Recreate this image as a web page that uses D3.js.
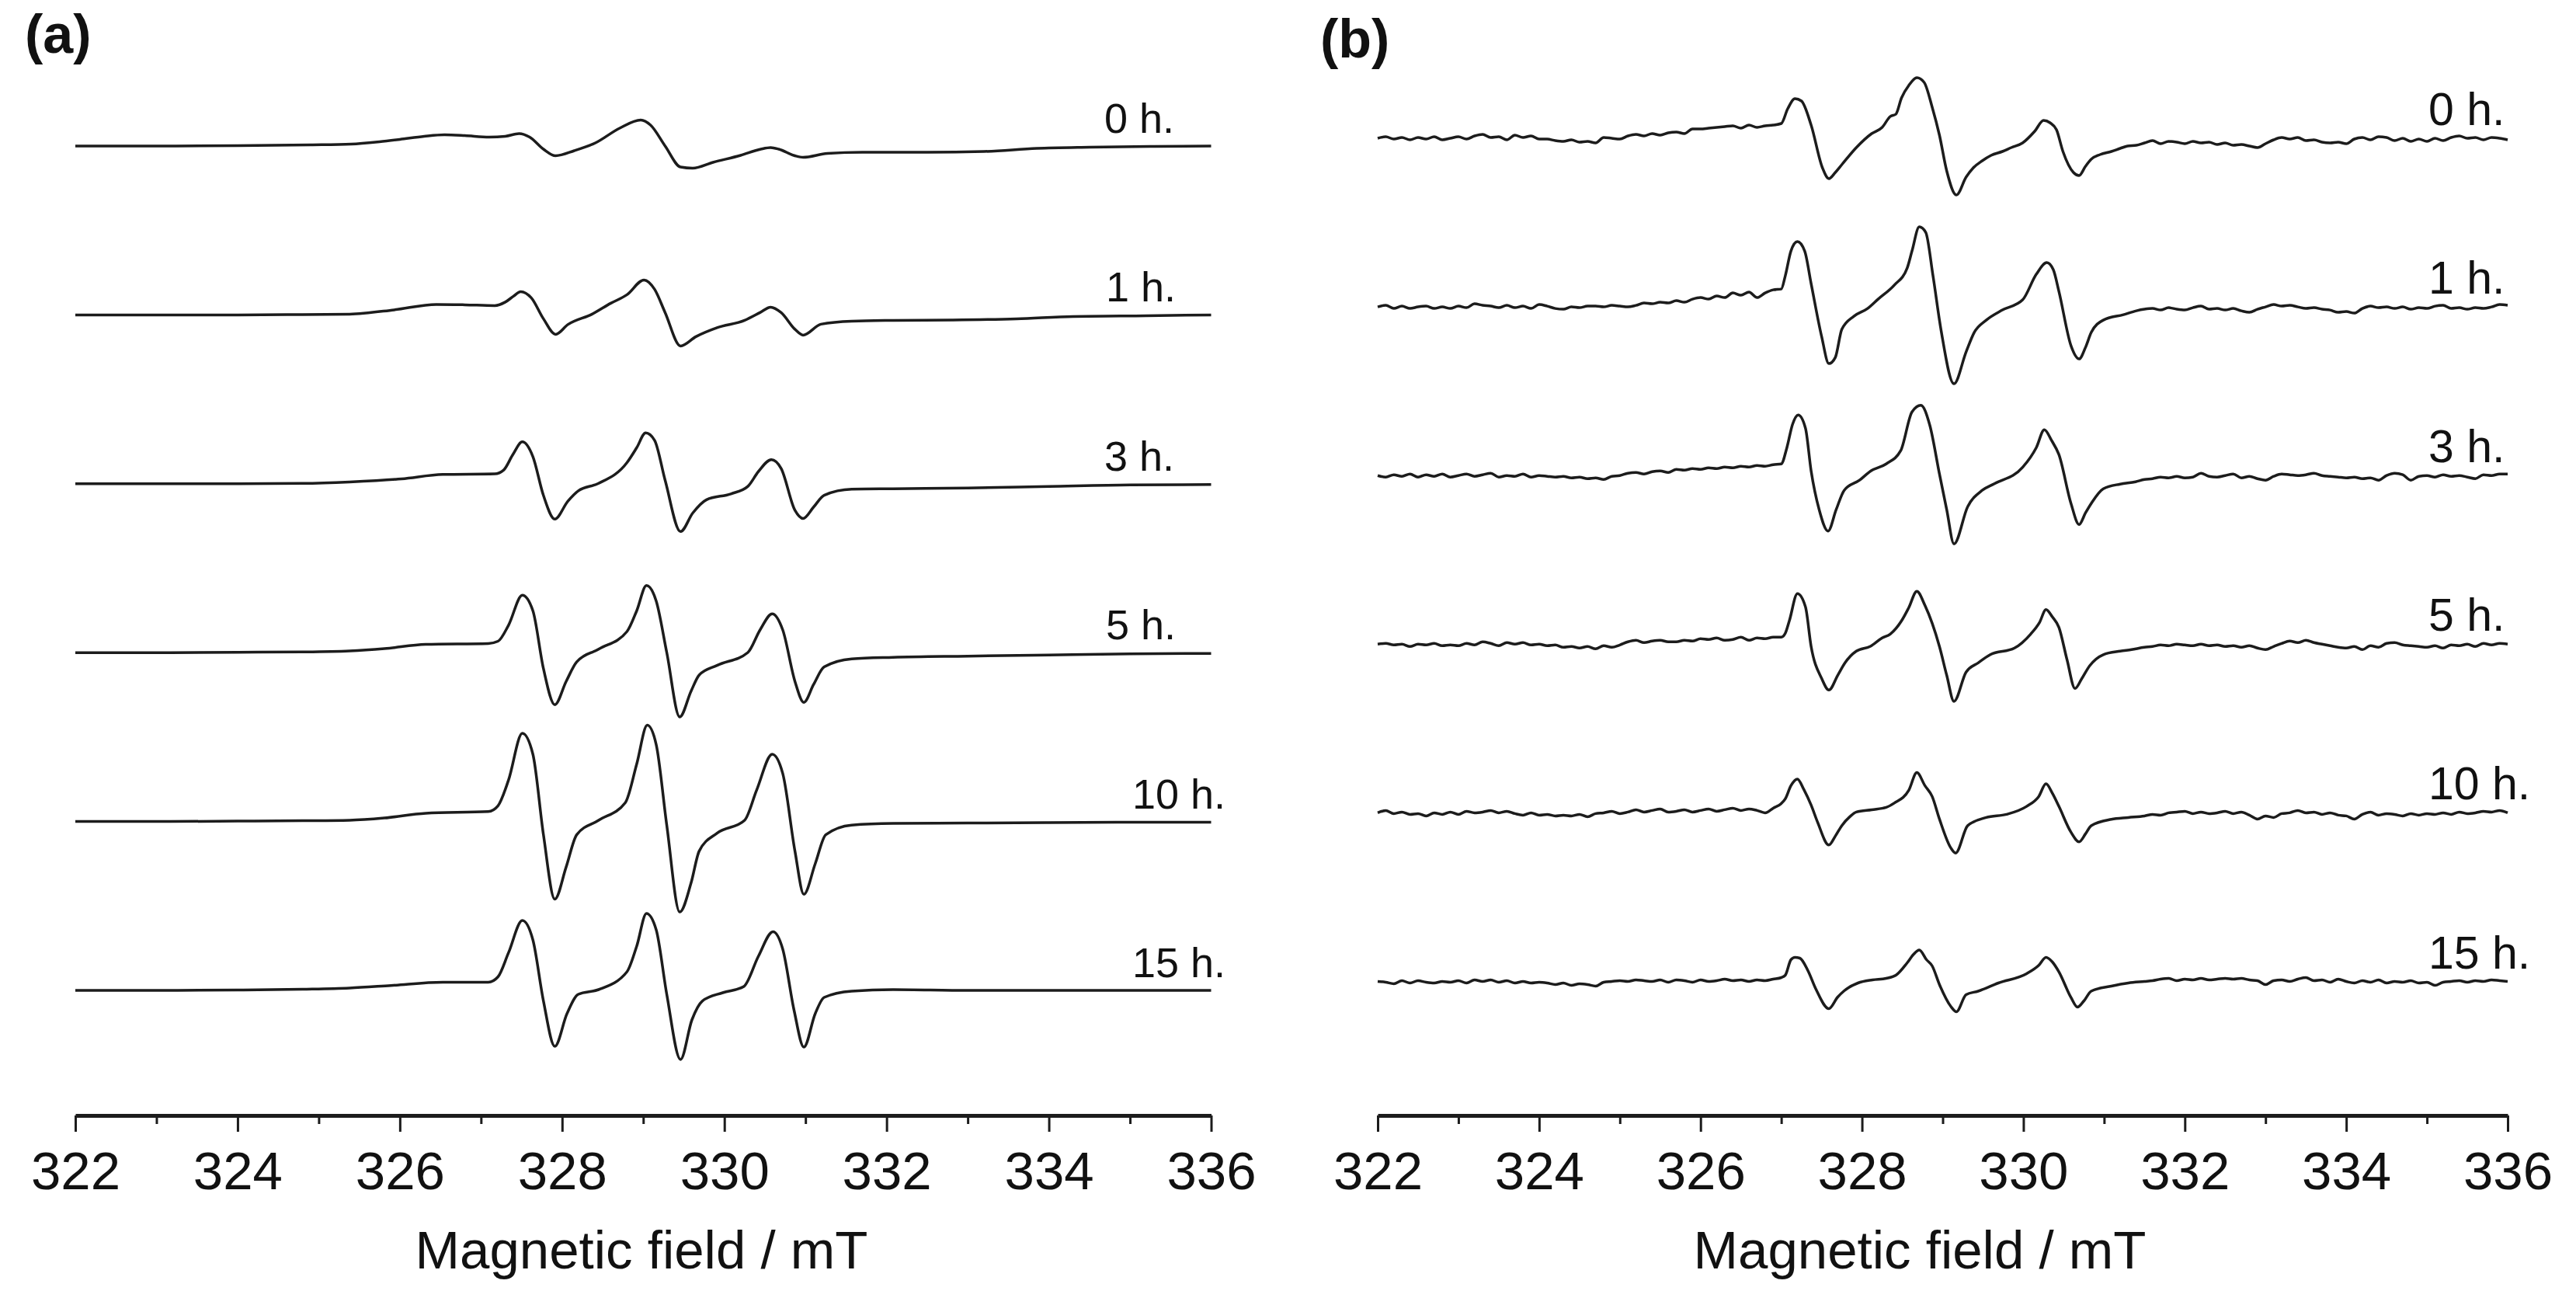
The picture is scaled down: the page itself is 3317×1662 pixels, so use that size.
<!DOCTYPE html>
<html>
<head>
<meta charset="utf-8">
<script src="https://cdn.jsdelivr.net/npm/d3@7"></script>
<style>
  html, body { margin: 0; padding: 0; background: #fff; }
  svg { display: block; }
  text { font-family: "Liberation Sans", Arial, sans-serif; fill: #111; }
</style>
</head>
<body>
<svg id="chart" width="3317" height="1662"></svg>
<script>
"use strict";

// Sample times, one label per stacked spectrum
const timeLabels = ["0 h.", "1 h.", "3 h.", "5 h.", "10 h.", "15 h."];

// Axis ticks (mT)
const majorTicks = [322, 324, 326, 328, 330, 332, 334, 336];
const minorTicks = [323, 325, 327, 329, 331, 333, 335];

// Panel (a): [field mT, signal a.u.]
const specA0 = [[322.0, 0], [323.0, 0], [324.0, 0.5], [324.9, 1.5], [325.4, 2.5], [325.75, 5.5], [326.0, 8.5], [326.3, 12.5],
    [326.55, 14.5], [326.8, 13.5], [327.1, 11.5], [327.3, 12.5], [327.47, 16], [327.6, 11.5], [327.77, -4], [327.92, -12.5],
    [328.15, -6], [328.41, 4], [328.71, 23], [328.97, 33.5], [329.09, 27], [329.27, 0], [329.46, -27], [329.61, -28.5],
    [329.86, -21], [330.2, -12], [330.45, -4], [330.57, -2], [330.67, -4], [330.87, -12.5], [330.97, -14.5], [331.27, -9.5],
    [331.7, -8], [332.5, -8], [333.2, -7], [333.85, -3], [334.5, -1.5], [335.3, -0.5], [336.0, 0]];
const specA1 = [[322.0, 0], [323.0, 0], [324.0, 0], [324.8, 0.5], [325.38, 1], [325.93, 6.5], [326.45, 13.5], [326.8, 13],
    [327.17, 12], [327.3, 16.5], [327.4, 24], [327.49, 30], [327.62, 22], [327.77, -5], [327.92, -25], [328.07, -12.5],
    [328.37, 1], [328.6, 15], [328.8, 26], [329.01, 45], [329.14, 33], [329.27, 3], [329.46, -40], [329.65, -28],
    [329.91, -16.5], [330.25, -7], [330.44, 3], [330.57, 10], [330.7, 3], [330.87, -18.5], [330.97, -26], [331.19, -12],
    [331.57, -8], [332.08, -7], [332.8, -6.5], [333.6, -5], [334.3, -2], [335.2, -1], [336.0, 0]];
const specA3 = [[322.0, 0], [323.0, 0], [324.0, 0], [324.8, 0.5], [325.38, 2.4], [326.02, 6.3], [326.53, 12], [327.17, 12.8],
    [327.28, 17.7], [327.39, 37], [327.51, 54], [327.64, 35], [327.77, -15], [327.91, -45.5], [328.07, -22.5], [328.2, -9],
    [328.45, 0.5], [328.8, 27.3], [328.92, 46.5], [329.03, 65.5], [329.14, 56], [329.27, 4.5], [329.46, -61.5], [329.61, -37.7],
    [329.78, -20.5], [330.08, -13], [330.29, -3.3], [330.42, 15.8], [330.58, 31], [330.7, 19.7], [330.87, -34], [330.97, -44.6],
    [331.1, -30], [331.23, -14.8], [331.57, -7], [332.08, -6.4], [333.0, -5.5], [334.0, -3.5], [335.0, -1.5], [336.0, -1]];
const specA5 = [[322.0, 0], [323.0, 0], [324.0, 0.5], [324.8, 1], [325.38, 2.3], [325.81, 5.2], [326.32, 10.6], [327.09, 11.8],
    [327.21, 14.7], [327.34, 35.4], [327.51, 74], [327.64, 54], [327.77, -20.5], [327.91, -67], [328.05, -37], [328.18, -12],
    [328.45, 4.4], [328.8, 27.2], [328.92, 54], [329.04, 86.4], [329.16, 66.5], [329.29, 0.2], [329.45, -82.7], [329.59, -49.5],
    [329.69, -28.8], [329.91, -16.4], [330.29, 0.2], [330.44, 29.2], [330.59, 50], [330.72, 29.2], [330.87, -37], [330.98, -64],
    [331.1, -41], [331.23, -18.4], [331.57, -8], [332.08, -6], [333.0, -4.5], [334.0, -3], [335.0, -1.5], [336.0, -1]];
const specA10 = [[322.0, 0], [323.0, 0], [324.0, 0.5], [324.8, 1], [325.38, 1.6], [325.81, 4.5], [326.32, 10.7], [327.09, 12.8],
    [327.21, 20.3], [327.34, 53.4], [327.51, 113.5], [327.64, 86.6], [327.77, -17], [327.91, -100], [328.05, -58.5], [328.18, -17],
    [328.45, 1.6], [328.78, 24.4], [328.92, 74.1], [329.05, 124], [329.16, 99], [329.29, -4.6], [329.45, -116.5], [329.59, -79],
    [329.69, -38], [329.91, -15], [330.25, 1.6], [330.4, 41], [330.59, 86.6], [330.72, 61.7], [330.87, -38], [330.98, -93.7],
    [331.12, -54.4], [331.25, -17], [331.57, -4.6], [332.08, -2.5], [333.0, -2], [334.0, -1.5], [335.0, -1], [336.0, -1]];
const specA15 = [[322.0, 0], [323.0, 0], [324.0, 0.5], [324.8, 1.5], [325.38, 3], [325.89, 6.3], [326.53, 10.5], [327.09, 10.5],
    [327.21, 17.5], [327.34, 48.6], [327.51, 90], [327.64, 65], [327.77, -13.6], [327.91, -72], [328.06, -30], [328.2, -5],
    [328.45, 1], [328.8, 24], [328.92, 57], [329.04, 99], [329.16, 78], [329.29, -5], [329.46, -89], [329.6, -38],
    [329.73, -13.6], [329.98, -3], [330.24, 5], [330.42, 44], [330.6, 75.5], [330.72, 53], [330.86, -26], [330.98, -73],
    [331.12, -30], [331.23, -9], [331.57, -1], [332.08, 1], [333.0, 0], [334.0, 0], [335.0, 0], [336.0, 0]];

// Panel (b): noisy baselines sampled every 0.1 mT (322.0-326.9 and 331.6-336.0), lines as [field, signal]
const fieldsLeftB = d3.range(50).map((i) => +(322 + i * 0.1).toFixed(1));
const fieldsRightB = d3.range(45).map((i) => +(331.6 + i * 0.1).toFixed(1));

const b0Left = [0, 2, -1, 1, -2, 1, -1, 2, -2, 0, 2, -1, 3, 5, 1, 2, -2, 4, 1, 3, -1, -1, -3, -4, -2, -5, -4, -6, 1, 0,
    -1, 3, 5, 3, 6, 4, 7, 8, 6, 12, 12, 13, 14, 15, 16, 13, 17, 14, 16, 17];
const b0Lines = [[327.0, 19], [327.08, 38], [327.17, 51], [327.25, 48], [327.37, 17], [327.51, -38], [327.59, -52], [327.67, -44],
    [327.75, -34], [327.93, -12], [328.12, 6], [328.25, 14], [328.35, 28], [328.42, 31], [328.49, 52], [328.58, 68], [328.68, 78],
    [328.77, 72], [328.87, 40], [328.96, 4], [329.05, -42], [329.17, -73], [329.29, -50], [329.38, -38], [329.49, -29], [329.6, -22],
    [329.74, -17], [329.85, -12], [329.99, -6], [330.14, 9], [330.25, 23], [330.33, 20], [330.41, 11], [330.49, -17], [330.62, -44],
    [330.69, -48], [330.77, -36], [330.84, -27], [330.95, -21], [331.09, -17], [331.2, -13], [331.29, -10], [331.4, -9], [331.5, -6]];
const b0Right = [-3, -7, -4, -5, -7, -4, -6, -5, -8, -6, -9, -8, -10, -12, -7, -2, 1, -1, 1, -3, -2, -5, -6, -5, -7, -1, 1, -2, 2, 1,
    -3, 0, -4, -1, -4, 0, -3, 1, 3, 0, 1, -2, 1, 0, -2];

const b1Left = [0, 2, -2, 1, -2, 0, 1, -2, 0, -2, 1, -1, 4, 2, 1, -1, 2, -1, 1, -2, 3, 1, -2, -3, 0, -1, 1, 1, 0, 2,
    1, 0, 2, 5, 4, 6, 5, 8, 6, 10, 12, 10, 14, 12, 18, 15, 19, 12, 18, 22];
const b1Lines = [[327.0, 23], [327.05, 40], [327.12, 72], [327.2, 84], [327.29, 72], [327.37, 30], [327.5, -38], [327.59, -73],
    [327.67, -65], [327.75, -29], [327.9, -12], [328.07, -2], [328.2, 10], [328.4, 28], [328.56, 50], [328.62, 72], [328.71, 103],
    [328.79, 96], [328.88, 40], [328.98, -30], [329.14, -99], [329.29, -58], [329.39, -33], [329.54, -17], [329.74, -4], [329.99, 9],
    [330.16, 42], [330.29, 57], [330.37, 48], [330.44, 20], [330.59, -50], [330.69, -67], [330.77, -52], [330.84, -33], [330.99, -17],
    [331.24, -10], [331.4, -5], [331.5, -3]];
const b1Right = [-2, -4, -1, -3, -4, -1, 1, -3, -2, -4, -2, -5, -7, -3, 0, 3, 1, 2, 0, -2, -1, -3, -4, -7, -6, -8, -2, 1, -1, 0,
    -2, 0, -3, -1, -2, 1, 2, -2, -1, -3, -1, -2, 0, 3, 2];

const b3Left = [0, -2, 1, -1, 2, -2, 1, -1, 2, -2, 0, 2, -1, 1, 3, -2, 0, -1, 2, -2, 0, -1, -2, -1, -3, -2, -4, -3, -5, -1,
    0, 3, 4, 2, 5, 6, 4, 8, 7, 9, 8, 10, 9, 11, 10, 12, 11, 13, 12, 14];
const b3Lines = [[327.0, 15], [327.07, 36], [327.14, 66], [327.21, 78], [327.3, 61], [327.37, 6], [327.47, -44], [327.58, -71.5],
    [327.68, -44], [327.78, -19], [327.97, -6], [328.11, 6], [328.3, 15], [328.48, 32], [328.62, 82], [328.73, 90.5], [328.84, 65],
    [328.96, 2], [329.05, -44], [329.14, -88], [329.31, -40], [329.49, -19], [329.64, -10.5], [329.99, 10.5], [330.16, 36],
    [330.26, 59], [330.35, 45], [330.44, 27], [330.59, -36], [330.69, -63], [330.77, -48], [330.84, -36], [330.99, -17],
    [331.2, -11], [331.39, -8], [331.5, -5]];
const b3Right = [-4, -2, -3, -1, -3, -2, 3, -1, -2, 0, 2, -3, -1, -4, -6, -1, 2, 1, 0, 1, 3, 0, -1, -2, -3, -2, -4, -3, -6, 0,
    3, 1, -6, -1, 0, -2, 1, -1, 0, -2, -4, 1, 0, 2, 2];

const b5Left = [0, 1, -1, 0, -3, 0, -1, 1, -2, -1, -2, 1, -1, 3, 1, -2, 2, 0, 2, -1, 0, -2, -1, -4, -3, -5, -3, -6, -2, -4,
    -1, 3, 5, 2, 4, 5, 3, 3, 5, 4, 7, 6, 8, 5, 6, 9, 5, 8, 7, 9];
const b5Lines = [[327.0, 9], [327.05, 14], [327.1, 30], [327.2, 65], [327.3, 48], [327.37, -3], [327.5, -44], [327.59, -59],
    [327.7, -40], [327.79, -24], [327.93, -9], [328.1, -3], [328.25, 8], [328.35, 13], [328.49, 30], [328.58, 47], [328.68, 68],
    [328.78, 50], [328.96, -3], [329.05, -40], [329.14, -73.6], [329.29, -36], [329.44, -24], [329.59, -13.5], [329.89, -5],
    [330.09, 13], [330.2, 28], [330.28, 44.5], [330.36, 35], [330.44, 21.7], [330.54, -19.7], [330.64, -57], [330.72, -45],
    [330.82, -28], [330.99, -13.5], [331.2, -9], [331.34, -7], [331.5, -4]];
const b5Right = [-3, -1, -2, 0, -1, -2, 0, -2, -1, -3, -2, -4, -2, -5, -7, -3, 1, 4, 2, 5, 2, 0, -2, -4, -5, -3, -7, -2, -4, 1,
    2, -1, -2, -3, -4, -2, -5, -1, -2, 0, -3, 1, -1, 1, 0];

const b10Left = [0, 3, -1, 1, -2, -1, -4, 0, -2, 1, -2, 2, 0, 1, 3, 0, 2, -1, -3, 0, -3, -2, -4, -3, -4, -2, -5, -1, 0, 2,
    -1, 1, 4, 1, 3, 5, 1, 2, 4, 1, 3, 5, 2, 4, 6, 3, 5, 3, 0, 6];
const b10Lines = [[327.0, 12], [327.05, 18], [327.12, 35], [327.2, 43.5], [327.28, 30], [327.37, 10], [327.45, -12], [327.59, -41.4],
    [327.67, -30], [327.75, -16.5], [327.85, -5], [327.93, 1], [328.12, 4], [328.3, 7], [328.4, 12.5], [328.58, 29], [328.68, 51.8],
    [328.78, 35], [328.87, 21], [328.96, -8], [329.1, -45], [329.16, -51.8], [329.31, -16.5], [329.54, -6], [329.79, -2],
    [330.04, 8.3], [330.19, 21], [330.28, 37.3], [330.36, 25], [330.44, 8.3], [330.59, -25], [330.69, -37.3], [330.77, -27],
    [330.84, -16.5], [331.09, -8.3], [331.3, -6], [331.5, -4]];
const b10Right = [-2, -3, 0, 1, 2, -1, 1, -1, 0, 2, -1, 1, -3, -8, -4, -6, -1, 0, 3, 0, 1, -2, 0, -3, -4, -8, -2, 1, -3, -1,
    -2, -4, -1, -3, -1, -2, 0, -2, 1, -1, 0, 2, 1, 3, 0];

const b15Left = [0, -1, -3, 1, -2, 1, -1, -2, 0, -1, 1, -2, 2, 0, 2, -1, 1, -2, 0, -2, -1, -2, -4, -2, -5, -3, -4, -6, -1, 0,
    1, 0, 2, 1, 0, 2, -1, 2, 1, -1, 2, 0, 1, 3, 1, 2, 0, 2, 1, 3];
const b15Lines = [[327.0, 5], [327.05, 8], [327.12, 28], [327.17, 31], [327.23, 30], [327.33, 14], [327.43, -10], [327.59, -35],
    [327.7, -20], [327.78, -12], [327.95, -2], [328.13, 2], [328.3, 4], [328.42, 8], [328.56, 24], [328.64, 35], [328.71, 40.6],
    [328.8, 28], [328.87, 20], [328.96, -4], [329.1, -32], [329.17, -39], [329.29, -17], [329.44, -12.5], [329.69, -2],
    [330.04, 10], [330.19, 20.7], [330.28, 31], [330.36, 25], [330.44, 12.4], [330.59, -20.7], [330.67, -33], [330.75, -25],
    [330.84, -12.5], [331.09, -6], [331.3, -2], [331.5, 0]];
const b15Right = [1, 3, 4, 1, 3, 2, 4, 2, 3, 4, 3, 4, 2, 1, -4, 1, 2, 0, 3, 5, 1, 2, -1, 3, 0, -2, 1, -1, 2, -2,
    0, -1, 1, -2, -1, -5, -1, 0, 1, -1, 1, 0, 2, 1, 0];

function joinB(left, lines, right) {
    return left.map((v, i) => [fieldsLeftB[i], v])
        .concat(lines)
        .concat(right.map((v, i) => [fieldsRightB[i], v]));
}

const seriesA = [specA0, specA1, specA3, specA5, specA10, specA15];
const seriesB = [
    joinB(b0Left, b0Lines, b0Right),
    joinB(b1Left, b1Lines, b1Right),
    joinB(b3Left, b3Lines, b3Right),
    joinB(b5Left, b5Lines, b5Right),
    joinB(b10Left, b10Lines, b10Right),
    joinB(b15Left, b15Lines, b15Right)
];

const svg = d3.select("#chart");
const axisY = 1436;
const ink = "#1c1c1c";

// One panel: stacked spectra sharing a field axis
function drawPanel(opt) {
    const x = d3.scaleLinear().domain([322, 336]).range([opt.x0, opt.x1]);
    const y = d3.scaleLinear().domain([-opt.depth, 0]).range([axisY, opt.top]);
    const g = svg.append("g");

    const line = d3.line()
        .x((d) => x(d[0]))
        .y((d) => y(d[1]))
        .curve(d3.curveMonotoneX);

    g.selectAll("path.trace")
        .data(opt.series)
        .join("path")
        .attr("class", "trace")
        .attr("fill", "none")
        .attr("stroke", ink)
        .attr("stroke-width", 3.5)
        .attr("stroke-linejoin", "round")
        .attr("d", (d, i) => line(d.map((p) => [p[0], p[1] - i * opt.step])));

    g.selectAll("text.time")
        .data(timeLabels)
        .join("text")
        .attr("class", "time")
        .attr("x", (d, i) => opt.labelX[i])
        .attr("y", (d, i) => y(-i * opt.step) - 17)
        .attr("font-size", opt.labelSize)
        .text((d) => d);

    const minor = g.append("g")
        .attr("transform", `translate(0,${axisY})`)
        .call(d3.axisBottom(x).tickValues(minorTicks).tickSize(11).tickSizeOuter(0).tickFormat(""));
    minor.select(".domain").remove();
    minor.selectAll(".tick line").attr("stroke", ink).attr("stroke-width", 3);

    const major = g.append("g")
        .attr("transform", `translate(0,${axisY})`)
        .call(d3.axisBottom(x).tickValues(majorTicks).tickSize(21).tickSizeOuter(0).tickPadding(25));
    major.select(".domain").attr("stroke", ink).attr("stroke-width", 5);
    major.selectAll(".tick line").attr("stroke", ink).attr("stroke-width", 3);
    major.selectAll(".tick text")
        .attr("font-family", "Liberation Sans, Arial, sans-serif")
        .attr("font-size", 69)
        .attr("fill", "#111");

    g.append("text")
        .attr("x", opt.titleX)
        .attr("y", 1633)
        .attr("text-anchor", "middle")
        .attr("font-size", 69)
        .text("Magnetic field / mT");

    g.append("text")
        .attr("x", opt.tagX)
        .attr("y", opt.tagY)
        .attr("font-size", 70)
        .attr("font-weight", "bold")
        .text(opt.tag);
}

drawPanel({
    series: seriesA, x0: 97, x1: 1559.5, top: 188, depth: 1248, step: 217.4,
    labelX: [1422, 1424, 1422, 1424, 1458, 1458], labelSize: 54,
    titleX: 826, tag: "(a)", tagX: 32, tagY: 68
});
drawPanel({
    series: seriesB, x0: 1774, x1: 3229, top: 178, depth: 1258, step: 217.1,
    labelX: [3127, 3127, 3127, 3127, 3127, 3127], labelSize: 59,
    titleX: 2472, tag: "(b)", tagX: 1700, tagY: 74
});
</script>
</body>
</html>
